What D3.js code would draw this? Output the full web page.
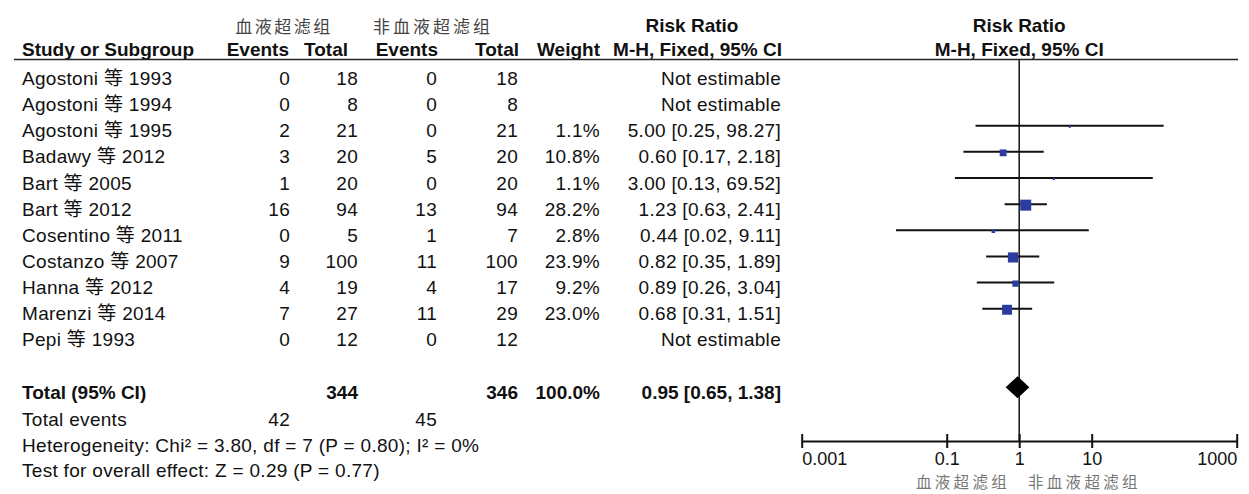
<!DOCTYPE html>
<html>
<head>
<meta charset="utf-8">
<script src="https://cdn.jsdelivr.net/npm/d3@7"></script>
<style>
  body { margin: 0; background: #fff; }
  text { font-family: "Liberation Sans", Arial, "Noto Sans CJK SC", sans-serif; fill: #111; }
  .cjk { font-family: "Noto Sans CJK SC", sans-serif; }
  .plain { letter-spacing: 0.3px; }
</style>
</head>
<body>
<svg width="1249" height="494"></svg>
<script>
// data
const studies = ["Agostoni 等 1993", "Agostoni 等 1994", "Agostoni 等 1995", "Badawy 等 2012",
  "Bart 等 2005", "Bart 等 2012", "Cosentino 等 2011", "Costanzo 等 2007",
  "Hanna 等 2012", "Marenzi 等 2014", "Pepi 等 1993"];
const hfEvents = [0, 0, 2, 3, 1, 16, 0, 9, 4, 7, 0];
const hfTotal = [18, 8, 21, 20, 20, 94, 5, 100, 19, 27, 12];
const ctlEvents = [0, 0, 0, 5, 0, 13, 1, 11, 4, 11, 0];
const ctlTotal = [18, 8, 21, 20, 20, 94, 7, 100, 17, 29, 12];
const weights = [null, null, 1.1, 10.8, 1.1, 28.2, 2.8, 23.9, 9.2, 23.0, null];
const rr = [null, null, 5.00, 0.60, 3.00, 1.23, 0.44, 0.82, 0.89, 0.68, null];
const ciLow = [null, null, 0.25, 0.17, 0.13, 0.63, 0.02, 0.35, 0.26, 0.31, null];
const ciHigh = [null, null, 98.27, 2.18, 69.52, 2.41, 9.11, 1.89, 3.04, 1.51, null];

const pooled = { rr: 0.95, lo: 0.65, hi: 1.38, hfTotal: 344, ctlTotal: 346, weight: 100.0 };
const totalEvents = [42, 45];
const heterogeneity = "Heterogeneity: Chi² = 3.80, df = 7 (P = 0.80); I² = 0%";
const overallTest = "Test for overall effect: Z = 0.29 (P = 0.77)";
const groupNames = ["血液超滤组", "非血液超滤组"];
const tickValues = [0.001, 0.1, 1, 10, 1000];

const svg = d3.select("svg");
const fs = 19;

// scales
const x = d3.scaleLog().domain([0.001, 1000]).range([801.7, 1236.7]);
const y = d3.scaleLinear().domain([0, 1]).range([73.4, 99.55]); // row index -> line y
const boxSize = d3.scaleSqrt().domain([0, 28.2]).range([0, 11]);

const fmt2 = d3.format(".2f");
const ciText = (r, l, h) => `${fmt2(r)} [${fmt2(l)}, ${fmt2(h)}]`;

// column right edges
const col = { e1: 290, t1: 358, e2: 437, t2: 518, w: 600, ci: 781 };

// header
const hdr = svg.append("g");
hdr.append("text").attr("class", "cjk").attr("x", 284).attr("y", 33)
  .attr("text-anchor", "middle").style("font-size", "17px").style("letter-spacing", "2.5px")
  .style("fill", "#444").text(groupNames[0]);
hdr.append("text").attr("class", "cjk").attr("x", 433).attr("y", 33)
  .attr("text-anchor", "middle").style("font-size", "17px").style("letter-spacing", "3px")
  .style("fill", "#444").text(groupNames[1]);
hdr.append("text").attr("x", 692).attr("y", 31.5).attr("text-anchor", "middle")
  .style("font-size", fs + "px").style("font-weight", "bold").text("Risk Ratio");
hdr.append("text").attr("x", x(1)).attr("y", 31.5).attr("text-anchor", "middle")
  .style("font-size", fs + "px").style("font-weight", "bold").text("Risk Ratio");

const head2 = [
  { t: "Study or Subgroup", x: 22, a: "start" },
  { t: "Events", x: 289, a: "end" },
  { t: "Total", x: 348, a: "end" },
  { t: "Events", x: 438, a: "end" },
  { t: "Total", x: 519, a: "end" },
  { t: "Weight", x: 600, a: "end" },
  { t: "M-H, Fixed, 95% CI", x: 782, a: "end" },
  { t: "M-H, Fixed, 95% CI", x: x(1), a: "middle" }
];
hdr.selectAll(".h2").data(head2).enter().append("text")
  .attr("x", d => d.x).attr("y", 56).attr("text-anchor", d => d.a)
  .style("font-size", fs + "px").style("font-weight", "bold").text(d => d.t);

hdr.append("line").attr("x1", 14).attr("x2", 1238).attr("y1", 59.5).attr("y2", 59.5)
  .attr("stroke", "#222").attr("stroke-width", 1.6);

// study rows
const rows = studies.map((s, i) => ({
  name: s, i, e1: hfEvents[i], t1: hfTotal[i], e2: ctlEvents[i], t2: ctlTotal[i],
  w: weights[i], rr: rr[i], lo: ciLow[i], hi: ciHigh[i]
}));

const rowG = svg.selectAll(".row").data(rows).enter().append("g")
  .attr("class", "plain")
  .attr("transform", d => `translate(0,${y(d.i) + 11.5})`)
  .style("font-size", fs + "px");

rowG.append("text").attr("x", 22).text(d => d.name);
rowG.append("text").attr("x", col.e1).attr("text-anchor", "end").text(d => d.e1);
rowG.append("text").attr("x", col.t1).attr("text-anchor", "end").text(d => d.t1);
rowG.append("text").attr("x", col.e2).attr("text-anchor", "end").text(d => d.e2);
rowG.append("text").attr("x", col.t2).attr("text-anchor", "end").text(d => d.t2);
rowG.append("text").attr("x", col.w).attr("text-anchor", "end")
  .text(d => d.w == null ? "" : d3.format(".1f")(d.w) + "%");
rowG.append("text").attr("x", col.ci).attr("text-anchor", "end")
  .text(d => d.rr == null ? "Not estimable" : ciText(d.rr, d.lo, d.hi));

// null line
svg.append("line").attr("x1", x(1)).attr("x2", x(1)).attr("y1", 59.5).attr("y2", 441)
  .attr("stroke", "#222").attr("stroke-width", 1.6);

// CIs and boxes
const est = rows.filter(d => d.rr != null);
svg.selectAll(".ci").data(est).enter().append("line")
  .attr("x1", d => x(d.lo)).attr("x2", d => x(d.hi))
  .attr("y1", d => y(d.i)).attr("y2", d => y(d.i))
  .attr("stroke", "#111").attr("stroke-width", 2);
svg.selectAll(".box").data(est).enter().append("rect")
  .attr("x", d => x(d.rr) - boxSize(d.w) / 2)
  .attr("y", d => y(d.i) - boxSize(d.w) / 2 + 1)
  .attr("width", d => boxSize(d.w)).attr("height", d => boxSize(d.w))
  .attr("fill", "#2b3ca0");

// total row
const totY = y(12);
const tot = svg.append("g").attr("transform", `translate(0,${totY + 11.5})`)
  .style("font-size", fs + "px").style("font-weight", "bold");
tot.append("text").attr("x", 22).text("Total (95% CI)");
tot.append("text").attr("x", col.t1).attr("text-anchor", "end").text(pooled.hfTotal);
tot.append("text").attr("x", col.t2).attr("text-anchor", "end").text(pooled.ctlTotal);
tot.append("text").attr("x", col.w).attr("text-anchor", "end").text(d3.format(".1f")(pooled.weight) + "%");
tot.append("text").attr("x", col.ci).attr("text-anchor", "end").text(ciText(pooled.rr, pooled.lo, pooled.hi));

svg.append("path")
  .attr("d", `M${x(pooled.lo)},${totY} L${x(pooled.rr)},${totY - 11} L${x(pooled.hi)},${totY} L${x(pooled.rr)},${totY + 11} Z`)
  .attr("fill", "#000");

// footer lines
const foot = svg.append("g").attr("class", "plain").style("font-size", fs + "px");
foot.append("text").attr("x", 22).attr("y", y(13) + 13).text("Total events");
foot.append("text").attr("x", col.e1).attr("y", y(13) + 13).attr("text-anchor", "end").text(totalEvents[0]);
foot.append("text").attr("x", col.e2).attr("y", y(13) + 13).attr("text-anchor", "end").text(totalEvents[1]);
foot.append("text").attr("x", 22).attr("y", y(14) + 12.5).text(heterogeneity);
foot.append("text").attr("x", 22).attr("y", y(15) + 11.5).text(overallTest);

// axis
const axisY = 441;
const axis = d3.axisBottom(x).tickValues(tickValues).tickSize(7).tickSizeOuter(0).tickPadding(4)
  .tickFormat(d => String(d));
const ax = svg.append("g").attr("transform", `translate(0,${axisY})`).call(axis);
ax.select(".domain").attr("stroke", "#111").attr("stroke-width", 2);
ax.selectAll(".tick line").attr("y1", -7).attr("y2", 7).attr("stroke", "#111").attr("stroke-width", 2);
ax.selectAll(".tick text")
  .style("font-size", "18px").style("font-family", "'Liberation Sans', Arial, sans-serif").attr("fill", "#111")
  .attr("text-anchor", (d, i) => i === 0 ? "start" : (i === tickValues.length - 1 ? "end" : "middle"));

svg.append("text").attr("class", "cjk").attr("x", 1010).attr("y", 488).attr("text-anchor", "end")
  .style("font-size", "15.5px").style("letter-spacing", "3.3px").style("fill", "#777").text(groupNames[0]);
svg.append("text").attr("class", "cjk").attr("x", 1028).attr("y", 488)
  .style("font-size", "15.5px").style("letter-spacing", "3.3px").style("fill", "#777").text(groupNames[1]);
</script>
</body>
</html>
